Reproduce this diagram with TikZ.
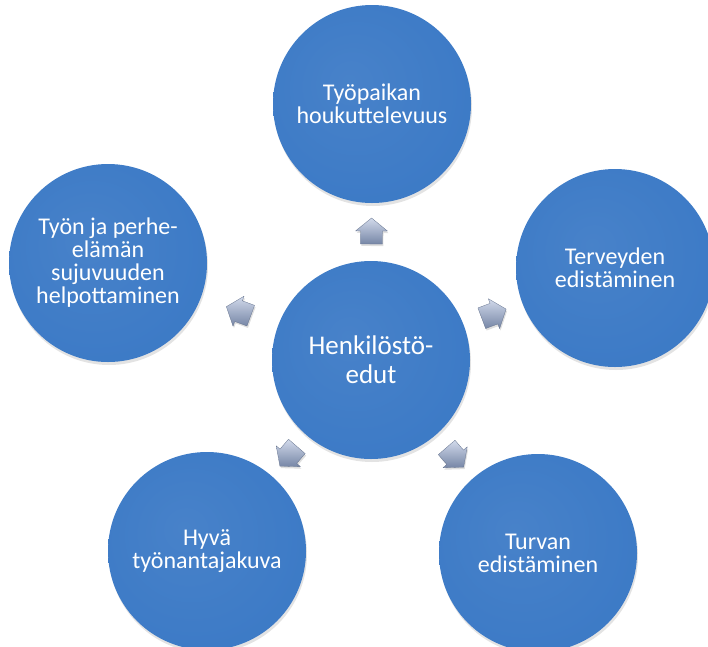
\documentclass[tikz,border=0pt]{standalone}
\usepackage{fontspec}
\setmainfont{Carlito}
\usetikzlibrary{shadows}
\definecolor{discmid}{RGB}{60,122,198}
\definecolor{discedge}{RGB}{52,106,178}
\definecolor{discrim}{RGB}{34,76,138}
\definecolor{arrowlight}{RGB}{210,218,235}
\definecolor{arrowdark}{RGB}{118,134,166}
\pgfdeclareradialshading{bluedisc}{\pgfpoint{-6bp}{6bp}}{%
  color(0bp)=(discmid!94!white); color(30bp)=(discmid); color(46bp)=(discedge); color(50bp)=(discrim)}
\begin{document}
\begin{tikzpicture}[x=1pt, y=-1pt,
    disc/.style={circle, minimum size=198pt, inner sep=0pt, shading=bluedisc,
      text=white, align=center, font=\fontsize{24}{23}\selectfont,
      drop shadow={opacity=0.22, shadow xshift=1pt, shadow yshift=-3pt}},
    hubdisc/.style={disc, minimum size=198pt, font=\fontsize{27}{29}\selectfont},
    arrowbox/.style={top color=arrowlight, bottom color=arrowdark,
      draw=arrowdark!85!black, line width=0.3pt, line join=round,
      drop shadow={opacity=0.25, shadow xshift=1pt, shadow yshift=-2pt}}]
    \useasboundingbox (0,0) rectangle (708,646);
    \clip (0,0) rectangle (708,646);
    % Hub and the five benefit discs
    \node[hubdisc] (hub) at (371,360) {Henkilöstö-\\edut};
    \node[disc] (top) at (372,104) {Työpaikan\\houkuttelevuus};
    \node[disc] (right) at (615,268) {Terveyden\\edistäminen};
    \node[disc] (lowright) at (538,553) {Turvan\\edistäminen};
    \node[disc] (lowleft) at (207,551) {Hyvä\\työnantajakuva};
    \node[disc] (left) at (108,263) {Työn ja perhe-\\elämän\\sujuvuuden\\helpottaminen};
    % Outward block arrows halfway between the centres
    \foreach \t in {top,right,lowright,lowleft,left} {
        \path (hub.center) -- coordinate[pos=0.5] (mid) (\t.center);
        \pgfmathanglebetweenpoints{\pgfpointanchor{hub}{center}}{\pgfpointanchor{\t}{center}}
        \let\dirangle\pgfmathresult
        \begin{scope}[shift={(mid)}, rotate=\dirangle, x=1pt, y=1pt]
            \path[arrowbox] (-12,-11) -- (1,-11) -- (1,-16) -- (14,0)
                -- (1,16) -- (1,11) -- (-12,11) -- cycle;
        \end{scope}
    }
\end{tikzpicture}
\end{document}
